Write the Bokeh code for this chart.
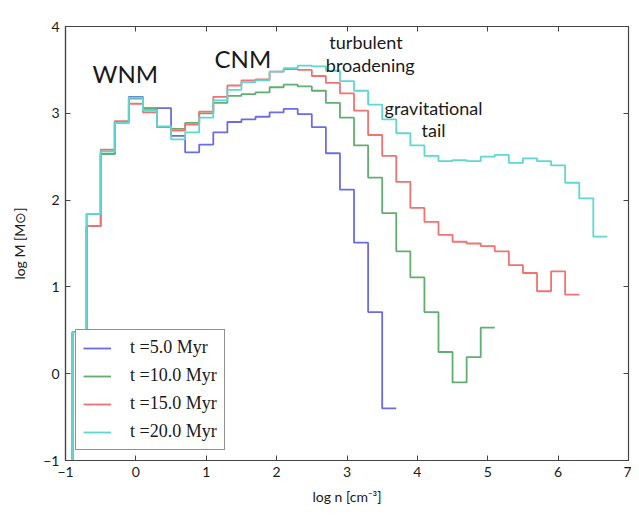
from bokeh.plotting import figure
from bokeh.models import LinearAxis, Label, FixedTicker, CustomJSTickFormatter
from bokeh.embed import file_html
from bokeh.resources import INLINE

# ---- data (log n bins of width 0.2 starting at -0.9) ----
bin_start = -0.9
bin_width = 0.2
floor_value = -1.5  # histogram rises from below the axis

series_labels = ["t =5.0 Myr", "t =10.0 Myr", "t =15.0 Myr", "t =20.0 Myr"]
series_colors = ["#6b6be6", "#62ad72", "#f07272", "#5ed8cf"]

logM_t5 = [0.48, 1.70, 2.53, 2.90, 3.19, 3.06, 3.06, 2.74, 2.55, 2.64, 2.78, 2.90,
           2.93, 2.96, 3.01, 3.05, 2.99, 2.84, 2.54, 2.12, 1.51, 0.71, -0.40]
logM_t10 = [0.48, 1.84, 2.53, 2.89, 3.17, 3.05, 2.84, 2.82, 2.89, 3.00, 3.12, 3.20,
            3.22, 3.24, 3.30, 3.33, 3.31, 3.26, 3.12, 2.95, 2.63, 2.26, 1.85, 1.41,
            1.11, 0.71, 0.25, -0.10, 0.19, 0.53]
logM_t15 = [0.48, 1.70, 2.58, 2.91, 3.11, 3.01, 2.84, 2.80, 2.87, 3.02, 3.19, 3.32,
            3.38, 3.39, 3.48, 3.51, 3.50, 3.43, 3.35, 3.23, 3.03, 2.75, 2.51, 2.21,
            1.91, 1.75, 1.60, 1.52, 1.50, 1.47, 1.41, 1.25, 1.16, 0.95, 1.18, 0.91]
logM_t20 = [0.48, 1.84, 2.56, 2.89, 3.18, 3.03, 2.85, 2.70, 2.78, 2.95, 3.15, 3.27,
            3.36, 3.38, 3.48, 3.52, 3.55, 3.54, 3.49, 3.37, 3.26, 3.10, 2.93, 2.77,
            2.63, 2.51, 2.45, 2.46, 2.45, 2.50, 2.52, 2.43, 2.48, 2.45, 2.40, 2.20,
            2.02, 1.58]
all_series = [logM_t5, logM_t10, logM_t15, logM_t20]

x_ticks = [-1, 0, 1, 2, 3, 4, 5, 6, 7]
y_ticks = [-1, 0, 1, 2, 3, 4]

annotation_texts = ["WNM", "CNM", "turbulent", "broadening", "gravitational", "tail"]
annotation_x = [-0.15, 1.52, 3.27, 3.33, 4.23, 4.23]
annotation_y = [3.46, 3.63, 3.82, 3.56, 3.06, 2.81]
annotation_sizes = ["24px", "24px", "18px", "18px", "18px", "18px"]

FONT = "Lato"
TXT = "#1a1a1a"
AX = "#444444"

p = figure(width=631, height=509, x_range=(-1, 7), y_range=(-1, 4),
           output_backend="svg", toolbar_location=None,
           min_border_left=65, min_border_right=3, min_border_top=26,
           min_border_bottom=49)
p.grid.visible = False
p.outline_line_color = AX
p.outline_line_width = 1.2

for vals, lab, col in zip(all_series, series_labels, series_colors):
    n = len(vals)
    edges = [bin_start + i * bin_width for i in range(n + 1)]
    xs = [edges[0]] + edges
    ys = [floor_value] + list(vals) + [vals[-1]]
    p.step(xs, ys, mode="after", line_color=col, line_width=1.8,
           legend_label=lab)

# axes
for ax in (p.xaxis[0], p.yaxis[0]):
    ax.major_tick_in = 5
    ax.major_tick_out = 0
    ax.minor_tick_line_color = None
    ax.axis_line_color = AX
    ax.axis_line_width = 1.2
    ax.major_tick_line_color = AX
    ax.major_label_text_font = FONT
    ax.major_label_text_font_size = "14px"
    ax.major_label_text_color = TXT
    ax.axis_label_text_font = FONT
    ax.axis_label_text_font_size = "14px"
    ax.axis_label_text_font_style = "normal"
    ax.axis_label_text_color = TXT
p.xaxis.ticker = FixedTicker(ticks=x_ticks)
p.yaxis.ticker = FixedTicker(ticks=y_ticks)
p.xaxis.major_label_standoff = 6
p.yaxis.major_label_standoff = 6
p.xaxis.axis_label = "log n [cm\u207b\u00b3]"
p.yaxis.axis_label = "log M [M\u2299]"
p.xaxis.axis_label_standoff = 8
p.yaxis.axis_label_standoff = 12

blank = CustomJSTickFormatter(code="return ''")
top_ax = LinearAxis(ticker=FixedTicker(ticks=x_ticks), formatter=blank)
right_ax = LinearAxis(ticker=FixedTicker(ticks=y_ticks), formatter=blank)
for ax in (top_ax, right_ax):
    ax.major_tick_in = 5
    ax.major_tick_out = 0
    ax.minor_tick_line_color = None
    ax.major_label_standoff = 0
    ax.axis_line_color = AX
    ax.major_tick_line_color = AX
p.add_layout(top_ax, "above")
p.add_layout(right_ax, "right")

# texts
for t, x, y, s in zip(annotation_texts, annotation_x, annotation_y, annotation_sizes):
    p.add_layout(Label(x=x, y=y, text=t, text_font=FONT, text_font_size=s,
                       text_color=TXT, text_align="center",
                       text_baseline="middle"))
p.add_layout(Label(x=2.98, y=4, y_offset=12, text="PDF", text_font=FONT,
                   text_font_size="14px", text_color=TXT, text_align="center",
                   text_baseline="middle"))

# legend
lg = p.legend[0]
lg.location = "bottom_left"
lg.margin = 10
lg.padding = 7
lg.spacing = 7
lg.glyph_width = 28
lg.glyph_height = 20
lg.label_height = 20
lg.label_standoff = 19
lg.label_text_font = "Liberation Serif"
lg.label_text_font_size = "18px"
lg.label_text_color = TXT
lg.border_line_color = "#222222"
lg.border_line_width = 1.3
lg.background_fill_alpha = 1.0

open("out.html", "w").write(file_html(p, INLINE))
